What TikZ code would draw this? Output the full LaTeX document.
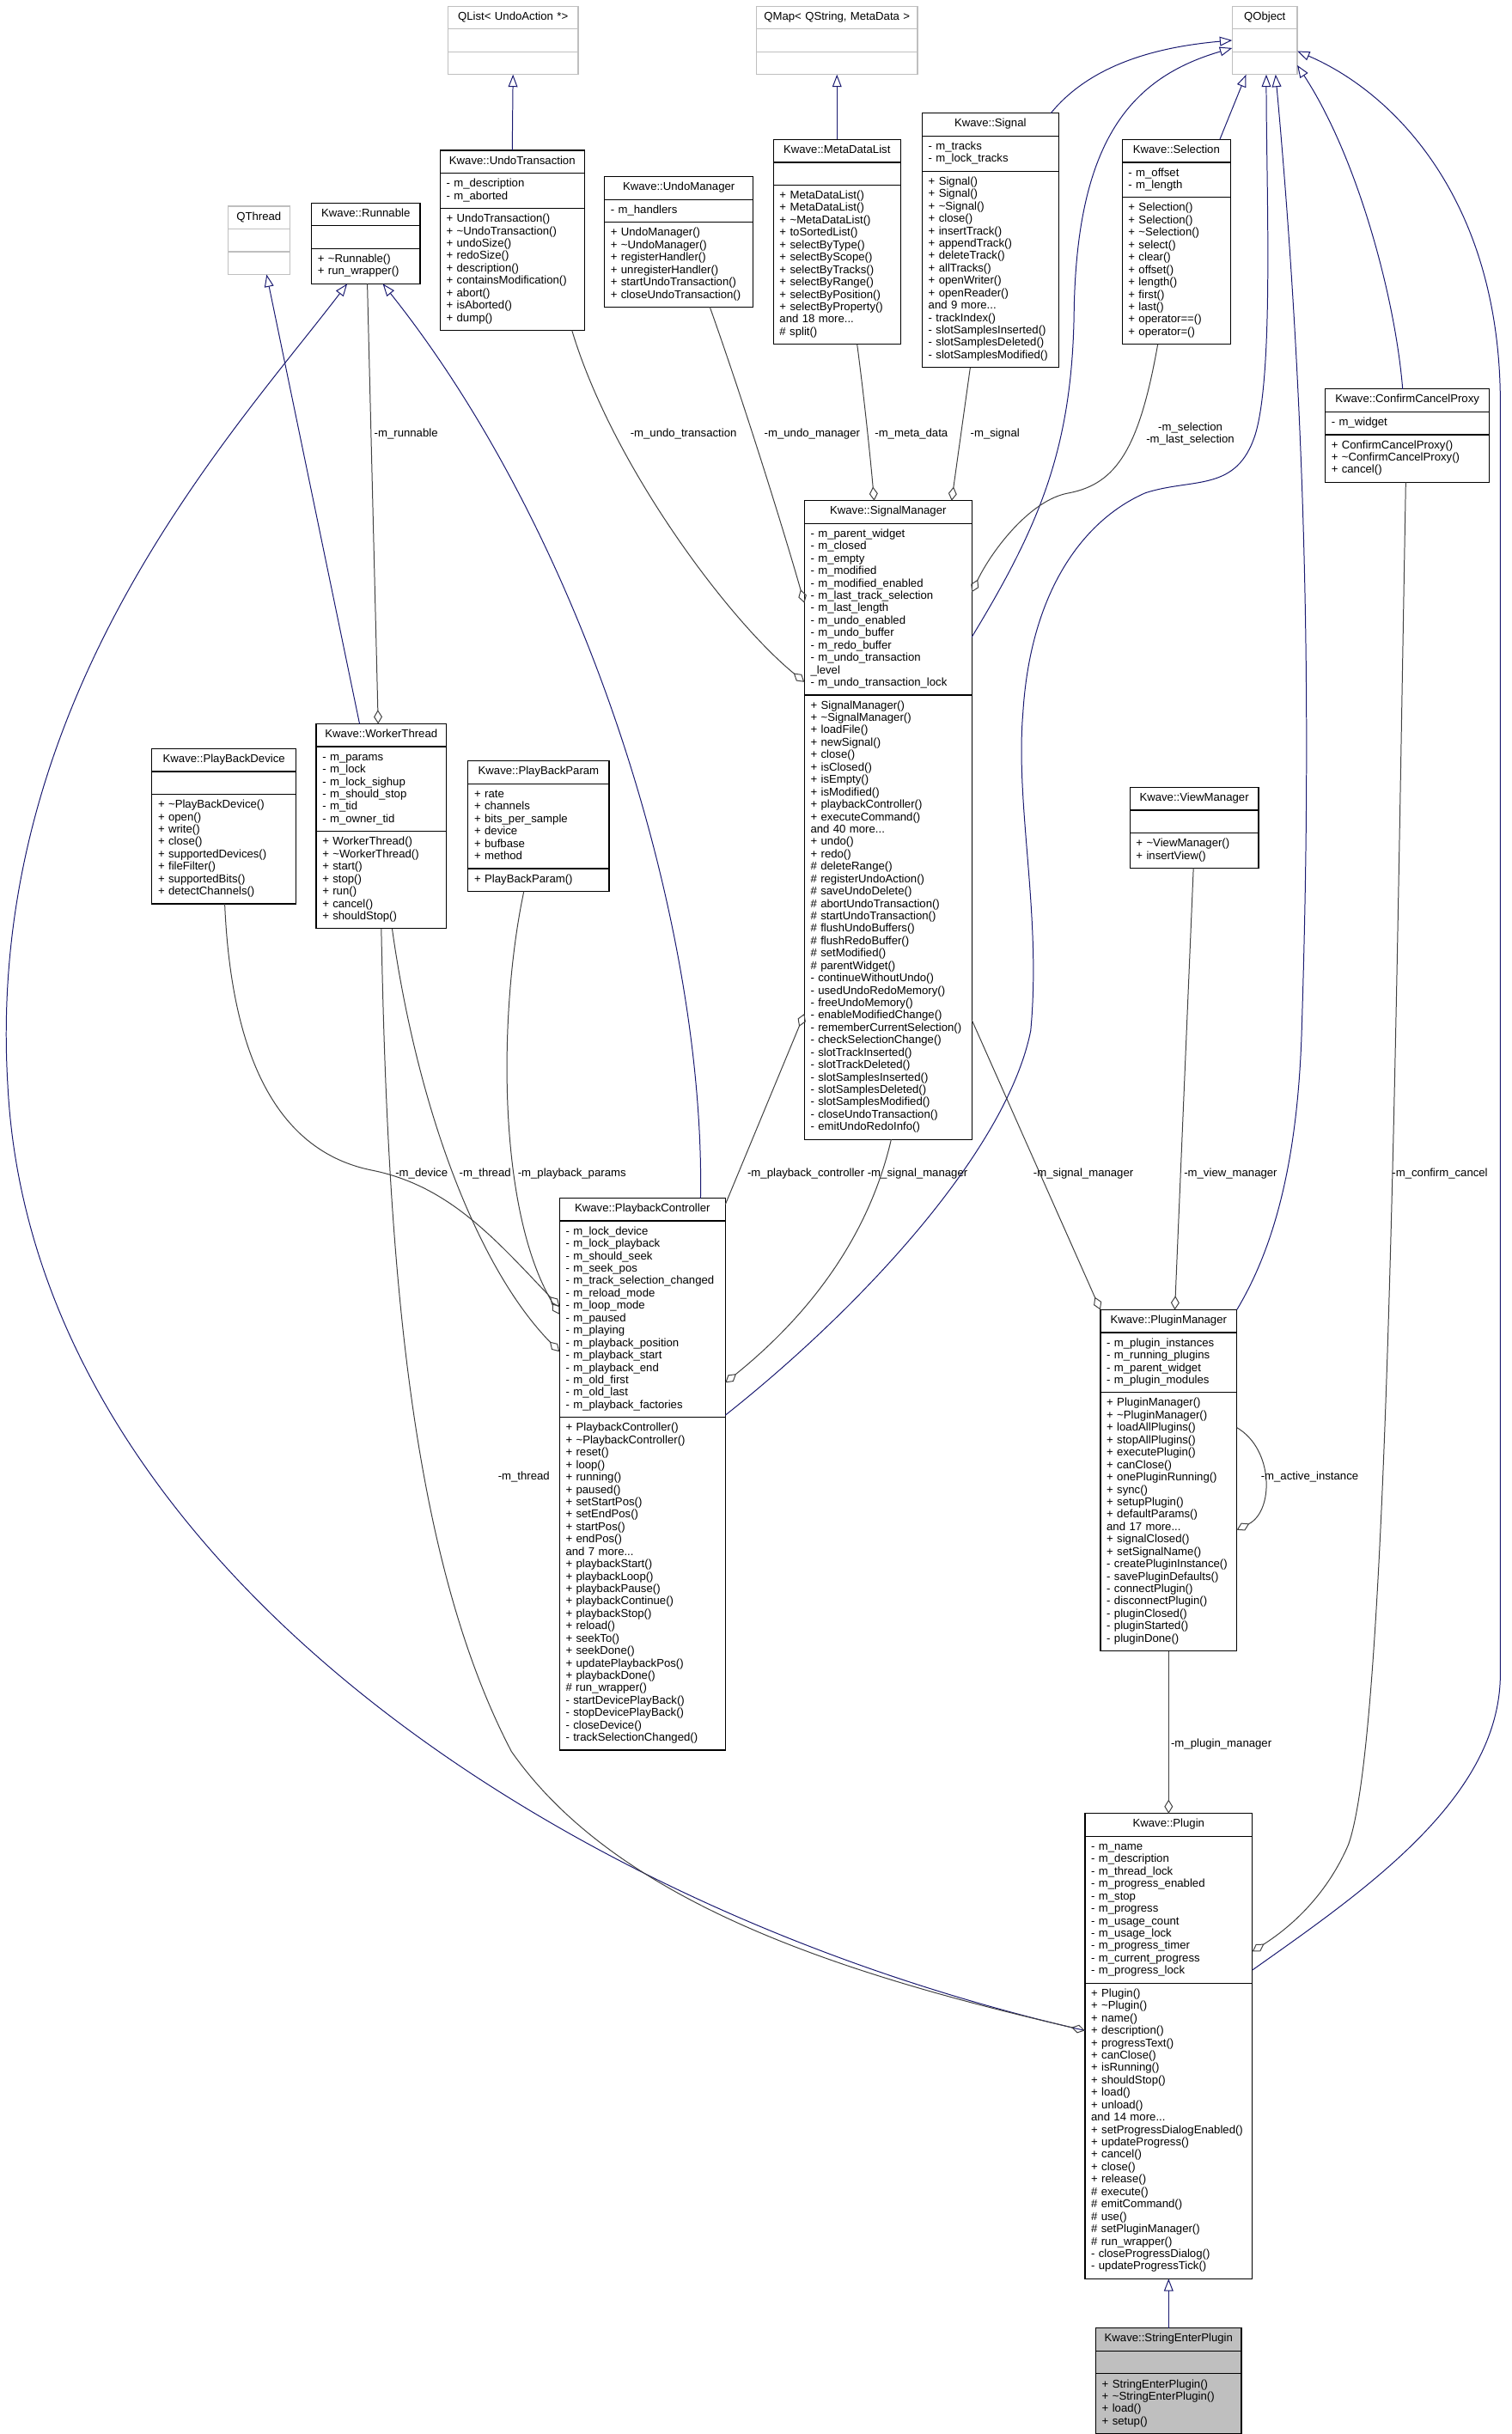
\documentclass[tikz,border=0pt]{standalone}
\usepackage{fontspec}
\setmainfont{Liberation Sans}
\usetikzlibrary{shapes.multipart,arrows.meta,calc}
\definecolor{edgeblue}{HTML}{191970}
\definecolor{edgegrey}{HTML}{404040}
\definecolor{extgrey}{HTML}{BFBFBF}
\newcommand\chead[1]{\hfill\strut#1\hfill\mbox{}}
\newcommand\cpart[1]{\strut#1\strut}
\newcommand\tld{\textasciitilde}

\begin{document}
\begin{tikzpicture}[x=1pt, y=-1pt,
    cls/.style={rectangle split, rectangle split parts=3, draw=black, line width=0.7pt,
      align=left, inner xsep=4pt, inner ysep=3pt, outer sep=0pt, anchor=north west,
      font=\fontsize{7.3}{8}\selectfont},
    ext/.style={cls, draw=extgrey},
    inh/.style={draw=edgeblue, line width=0.55pt, -{Triangle[open, length=8pt, width=6pt]}},
    agg/.style={draw=edgegrey, line width=0.55pt, -{Diamond[open, length=9pt, width=5.5pt]}},
    lbl/.style={font=\fontsize{7.3}{8}\selectfont, inner sep=0pt, align=center}]
		\useasboundingbox (0,0) rectangle (975,1570.3);
		% external classes
		\node[ext, text width=76pt] (qlist) at (289,4) {\chead{QList< UndoAction *>}\nodepart{two}\strut\nodepart{three}\strut};
		\node[ext, text width=96pt] (qmap) at (488,4) {\chead{QMap< QString, MetaData >}\nodepart{two}\strut\nodepart{three}\strut};
		\node[ext, text width=34pt] (qobject) at (795,4) {\chead{QObject}\nodepart{two}\strut\nodepart{three}\strut};
		\node[ext, text width=32pt] (qthread) at (147,133) {\chead{QThread}\nodepart{two}\strut\nodepart{three}\strut};
		% classes
		\node[cls, text width=62pt] (runnable) at (201,131) {\chead{Kwave::Runnable}\nodepart{two}\strut
			\nodepart{three}\cpart{+ \tld Runnable()\\+ run\_wrapper()}};
		\node[cls, text width=85pt] (ut) at (284,97) {\chead{Kwave::UndoTransaction}
			\nodepart{two}\cpart{- m\_description\\- m\_aborted}
			\nodepart{three}\cpart{+ UndoTransaction()\\+ \tld UndoTransaction()\\+ undoSize()\\+ redoSize()\\+ description()\\+ containsModification()\\+ abort()\\+ isAborted()\\+ dump()}};
		\node[cls, text width=88pt] (um) at (390,114) {\chead{Kwave::UndoManager}
			\nodepart{two}\cpart{- m\_handlers}
			\nodepart{three}\cpart{+ UndoManager()\\+ \tld UndoManager()\\+ registerHandler()\\+ unregisterHandler()\\+ startUndoTransaction()\\+ closeUndoTransaction()}};
		\node[cls, text width=74pt] (mdl) at (499,90) {\chead{Kwave::MetaDataList}\nodepart{two}\strut
			\nodepart{three}\cpart{+ MetaDataList()\\+ MetaDataList()\\+ \tld MetaDataList()\\+ toSortedList()\\+ selectByType()\\+ selectByScope()\\+ selectByTracks()\\+ selectByRange()\\+ selectByPosition()\\+ selectByProperty()\\and 18 more...\\\# split()}};
		\node[cls, text width=80pt] (sig) at (595,73) {\chead{Kwave::Signal}
			\nodepart{two}\cpart{- m\_tracks\\- m\_lock\_tracks}
			\nodepart{three}\cpart{+ Signal()\\+ Signal()\\+ \tld Signal()\\+ close()\\+ insertTrack()\\+ appendTrack()\\+ deleteTrack()\\+ allTracks()\\+ openWriter()\\+ openReader()\\and 9 more...\\- trackIndex()\\- slotSamplesInserted()\\- slotSamplesDeleted()\\- slotSamplesModified()}};
		\node[cls, text width=62pt] (sel) at (724,90) {\chead{Kwave::Selection}
			\nodepart{two}\cpart{- m\_offset\\- m\_length}
			\nodepart{three}\cpart{+ Selection()\\+ Selection()\\+ \tld Selection()\\+ select()\\+ clear()\\+ offset()\\+ length()\\+ first()\\+ last()\\+ operator==()\\+ operator=()}};
		\node[cls, text width=98pt] (ccp) at (855,251) {\chead{Kwave::ConfirmCancelProxy}
			\nodepart{two}\cpart{- m\_widget}
			\nodepart{three}\cpart{+ ConfirmCancelProxy()\\+ \tld ConfirmCancelProxy()\\+ cancel()}};
		\node[cls, text width=100pt] (sm) at (519,323) {\chead{Kwave::SignalManager}
			\nodepart{two}\cpart{- m\_parent\_widget\\- m\_closed\\- m\_empty\\- m\_modified\\- m\_modified\_enabled\\- m\_last\_track\_selection\\- m\_last\_length\\- m\_undo\_enabled\\- m\_undo\_buffer\\- m\_redo\_buffer\\- m\_undo\_transaction\\\_level\\- m\_undo\_transaction\_lock}
			\nodepart{three}\cpart{+ SignalManager()\\+ \tld SignalManager()\\+ loadFile()\\+ newSignal()\\+ close()\\+ isClosed()\\+ isEmpty()\\+ isModified()\\+ playbackController()\\+ executeCommand()\\and 40 more...\\+ undo()\\+ redo()\\\# deleteRange()\\\# registerUndoAction()\\\# saveUndoDelete()\\\# abortUndoTransaction()\\\# startUndoTransaction()\\\# flushUndoBuffers()\\\# flushRedoBuffer()\\\# setModified()\\\# parentWidget()\\- continueWithoutUndo()\\- usedUndoRedoMemory()\\- freeUndoMemory()\\- enableModifiedChange()\\- rememberCurrentSelection()\\- checkSelectionChange()\\- slotTrackInserted()\\- slotTrackDeleted()\\- slotSamplesInserted()\\- slotSamplesDeleted()\\- slotSamplesModified()\\- closeUndoTransaction()\\- emitUndoRedoInfo()}};
		\node[cls, text width=85pt] (pbd) at (98,483) {\chead{Kwave::PlayBackDevice}\nodepart{two}\strut
			\nodepart{three}\cpart{+ \tld PlayBackDevice()\\+ open()\\+ write()\\+ close()\\+ supportedDevices()\\+ fileFilter()\\+ supportedBits()\\+ detectChannels()}};
		\node[cls, text width=76pt] (wt) at (204,467) {\chead{Kwave::WorkerThread}
			\nodepart{two}\cpart{- m\_params\\- m\_lock\\- m\_lock\_sighup\\- m\_should\_stop\\- m\_tid\\- m\_owner\_tid}
			\nodepart{three}\cpart{+ WorkerThread()\\+ \tld WorkerThread()\\+ start()\\+ stop()\\+ run()\\+ cancel()\\+ shouldStop()}};
		\node[cls, text width=83pt] (pbp) at (302,491) {\chead{Kwave::PlayBackParam}
			\nodepart{two}\cpart{+ rate\\+ channels\\+ bits\_per\_sample\\+ device\\+ bufbase\\+ method}
			\nodepart{three}\cpart{+ PlayBackParam()}};
		\node[cls, text width=75pt] (vm) at (729,508) {\chead{Kwave::ViewManager}\nodepart{two}\strut
			\nodepart{three}\cpart{+ \tld ViewManager()\\+ insertView()}};
		\node[cls, text width=99pt] (pc) at (361,773) {\chead{Kwave::PlaybackController}
			\nodepart{two}\cpart{- m\_lock\_device\\- m\_lock\_playback\\- m\_should\_seek\\- m\_seek\_pos\\- m\_track\_selection\_changed\\- m\_reload\_mode\\- m\_loop\_mode\\- m\_paused\\- m\_playing\\- m\_playback\_position\\- m\_playback\_start\\- m\_playback\_end\\- m\_old\_first\\- m\_old\_last\\- m\_playback\_factories}
			\nodepart{three}\cpart{+ PlaybackController()\\+ \tld PlaybackController()\\+ reset()\\+ loop()\\+ running()\\+ paused()\\+ setStartPos()\\+ setEndPos()\\+ startPos()\\+ endPos()\\and 7 more...\\+ playbackStart()\\+ playbackLoop()\\+ playbackPause()\\+ playbackContinue()\\+ playbackStop()\\+ reload()\\+ seekTo()\\+ seekDone()\\+ updatePlaybackPos()\\+ playbackDone()\\\# run\_wrapper()\\- startDevicePlayBack()\\- stopDevicePlayBack()\\- closeDevice()\\- trackSelectionChanged()}};
		\node[cls, text width=80pt] (pm) at (710,845) {\chead{Kwave::PluginManager}
			\nodepart{two}\cpart{- m\_plugin\_instances\\- m\_running\_plugins\\- m\_parent\_widget\\- m\_plugin\_modules}
			\nodepart{three}\cpart{+ PluginManager()\\+ \tld PluginManager()\\+ loadAllPlugins()\\+ stopAllPlugins()\\+ executePlugin()\\+ canClose()\\+ onePluginRunning()\\+ sync()\\+ setupPlugin()\\+ defaultParams()\\and 17 more...\\+ signalClosed()\\+ setSignalName()\\- createPluginInstance()\\- savePluginDefaults()\\- connectPlugin()\\- disconnectPlugin()\\- pluginClosed()\\- pluginStarted()\\- pluginDone()}};
		\node[cls, text width=100pt] (plugin) at (700,1170) {\chead{Kwave::Plugin}
			\nodepart{two}\cpart{- m\_name\\- m\_description\\- m\_thread\_lock\\- m\_progress\_enabled\\- m\_stop\\- m\_progress\\- m\_usage\_count\\- m\_usage\_lock\\- m\_progress\_timer\\- m\_current\_progress\\- m\_progress\_lock}
			\nodepart{three}\cpart{+ Plugin()\\+ \tld Plugin()\\+ name()\\+ description()\\+ progressText()\\+ canClose()\\+ isRunning()\\+ shouldStop()\\+ load()\\+ unload()\\and 14 more...\\+ setProgressDialogEnabled()\\+ updateProgress()\\+ cancel()\\+ close()\\+ release()\\\# execute()\\\# emitCommand()\\\# use()\\\# setPluginManager()\\\# run\_wrapper()\\- closeProgressDialog()\\- updateProgressTick()}};
		\node[cls, fill=extgrey, text width=86pt] (sep) at (707,1502) {\chead{Kwave::StringEnterPlugin}\nodepart{two}\strut
			\nodepart{three}\cpart{+ StringEnterPlugin()\\+ \tld StringEnterPlugin()\\+ load()\\+ setup()}};

		% inheritance
		\draw[inh] (ut.north) -- (qlist.south);
		\draw[inh] (mdl.north) -- (qmap.south);
		\draw[inh] ($(sig.north east)+(-5,0)$) .. controls (705,40) and (750,30) .. ($(qobject.north west)+(0,22)$);
		\draw[inh] ($(sm.north east)+(0,88)$) .. controls (670,340) and (692,290) .. (693,200) .. controls (695,90) and (730,50) .. ($(qobject.north west)+(0,27)$);
		\draw[inh] ($(sel.north west)+(63,0)$) -- ($(qobject.south west)+(9,0)$);
		\draw[inh] ($(pc.north east)+(0,140)$) .. controls (560,840) and (650,740) .. (665,665) .. controls (672,590) and (655,520) .. (660,460) .. controls (665,380) and (700,335) .. (739,318) .. controls (770,308) and (798,318) .. (810,280) .. controls (822,240) and (817,120) .. ($(qobject.south west)+(22,0)$);
		\draw[inh] (pm.north east) .. controls (825,800) and (838,740) .. (840,660) .. controls (845,500) and (846,300) .. ($(qobject.south west)+(28,0)$);
		\draw[inh] ($(ccp.north west)+(50,0)$) .. controls (900,190) and (875,100) .. ($(qobject.south east)+(0,-6)$);
		\draw[inh] ($(plugin.north east)+(0,101)$) .. controls (880,1220) and (968,1160) .. (968,1080) -- (968,260) .. controls (968,130) and (900,60) .. ($(qobject.north east)+(0,29)$);
		\draw[inh] (sep.north) -- (plugin.south);
		\draw[inh] ($(wt.north west)+(28,0)$) -- ($(qthread.south)+(5,0)$);
		\draw[inh] ($(plugin.north west)+(0,140)$) .. controls (350,1230) and (20,1000) .. (5,700) .. controls (-10,450) and (150,280) .. ($(runnable.south west)+(23,0)$);
		\draw[inh] ($(pc.north west)+(91,0)$) .. controls (455,600) and (380,350) .. ($(runnable.south west)+(46,0)$);

		% members
		\draw[agg] ($(runnable.south west)+(36,0)$) -- ($(wt.north west)+(40,0)$);
		\draw[agg] ($(ut.south west)+(85,0)$) .. controls (395,300) and (470,400) .. ($(sm.north west)+(0,117)$);
		\draw[agg] ($(um.south west)+(68,0)$) .. controls (480,260) and (505,340) .. ($(sm.north west)+(0,66)$);
		\draw[agg] ($(mdl.south west)+(54,0)$) .. controls (558,260) and (562,300) .. ($(sm.north west)+(45,0)$);
		\draw[agg] ($(sig.south west)+(31,0)$) -- ($(sm.north west)+(95,0)$);
		\draw[agg] ($(sel.south west)+(23,0)$) .. controls (735,290) and (720,312) .. (690,318) .. controls (665,322) and (640,355) .. ($(sm.north east)+(0,59)$);
		\draw[agg] ($(pc.north east)+(0,4)$) -- ($(sm.north west)+(0,331)$);
		\draw[agg] ($(sm.south west)+(56,0)$) .. controls (560,800) and (520,850) .. ($(pc.north east)+(0,119)$);
		\draw[agg] ($(sm.north east)+(0,335)$) -- (pm.north west);
		\draw[agg] ($(vm.south west)+(41,0)$) -- ($(pm.north west)+(48,0)$);
		\draw[agg] (pm.south) -- (plugin.north);
		\draw[agg] ($(pm.north east)+(0,76)$) .. controls (822,935) and (822,975) .. ($(pm.north east)+(0,142)$);
		\draw[agg] ($(ccp.south west)+(52,0)$) .. controls (900,700) and (895,1120) .. (870,1190) .. controls (855,1225) and (830,1245) .. ($(plugin.north east)+(0,89)$);
		\draw[agg] ($(wt.south west)+(42,0)$) .. controls (250,800) and (262,1000) .. (330,1130) .. controls (400,1230) and (550,1275) .. ($(plugin.north west)+(0,140)$);
		\draw[agg] ($(wt.south west)+(49,0)$) .. controls (270,720) and (310,820) .. ($(pc.north west)+(0,99)$);
		\draw[agg] ($(pbd.south west)+(47,0)$) .. controls (150,700) and (190,745) .. (240,755) .. controls (290,765) and (320,800) .. ($(pc.north west)+(0,70)$);
		\draw[agg] ($(pbp.south west)+(36,0)$) .. controls (322,650) and (320,780) .. ($(pc.north west)+(0,75)$);

		% member names
		\node[lbl] (lrunnable) at (262,280) {-m\_runnable};
		\node[lbl] (lundotrans) at (441,280) {-m\_undo\_transaction};
		\node[lbl] (lundomgr) at (524,280) {-m\_undo\_manager};
		\node[lbl] (lmeta) at (588,280) {-m\_meta\_data};
		\node[lbl] (lsignal) at (642,280) {-m\_signal};
		\node[lbl] (lselection) at (768,280) {-m\_selection\\-m\_last\_selection};
		\node[lbl] (ldevice) at (272,757) {-m\_device};
		\node[lbl] (lthread) at (313,757) {-m\_thread};
		\node[lbl] (lparams) at (369,757) {-m\_playback\_params};
		\node[lbl] (lcontroller) at (520,757) {-m\_playback\_controller};
		\node[lbl] (lsigmgr) at (592,757) {-m\_signal\_manager};
		\node[lbl] (lsigmgrb) at (699,757) {-m\_signal\_manager};
		\node[lbl] (lviewmgr) at (794,757) {-m\_view\_manager};
		\node[lbl] (lconfirm) at (929,757) {-m\_confirm\_cancel};
		\node[lbl] (lthreadb) at (338,953) {-m\_thread};
		\node[lbl] (lactive) at (845,953) {-m\_active\_instance};
		\node[lbl] (lpluginmgr) at (788,1125) {-m\_plugin\_manager};
\end{tikzpicture}
\end{document}
